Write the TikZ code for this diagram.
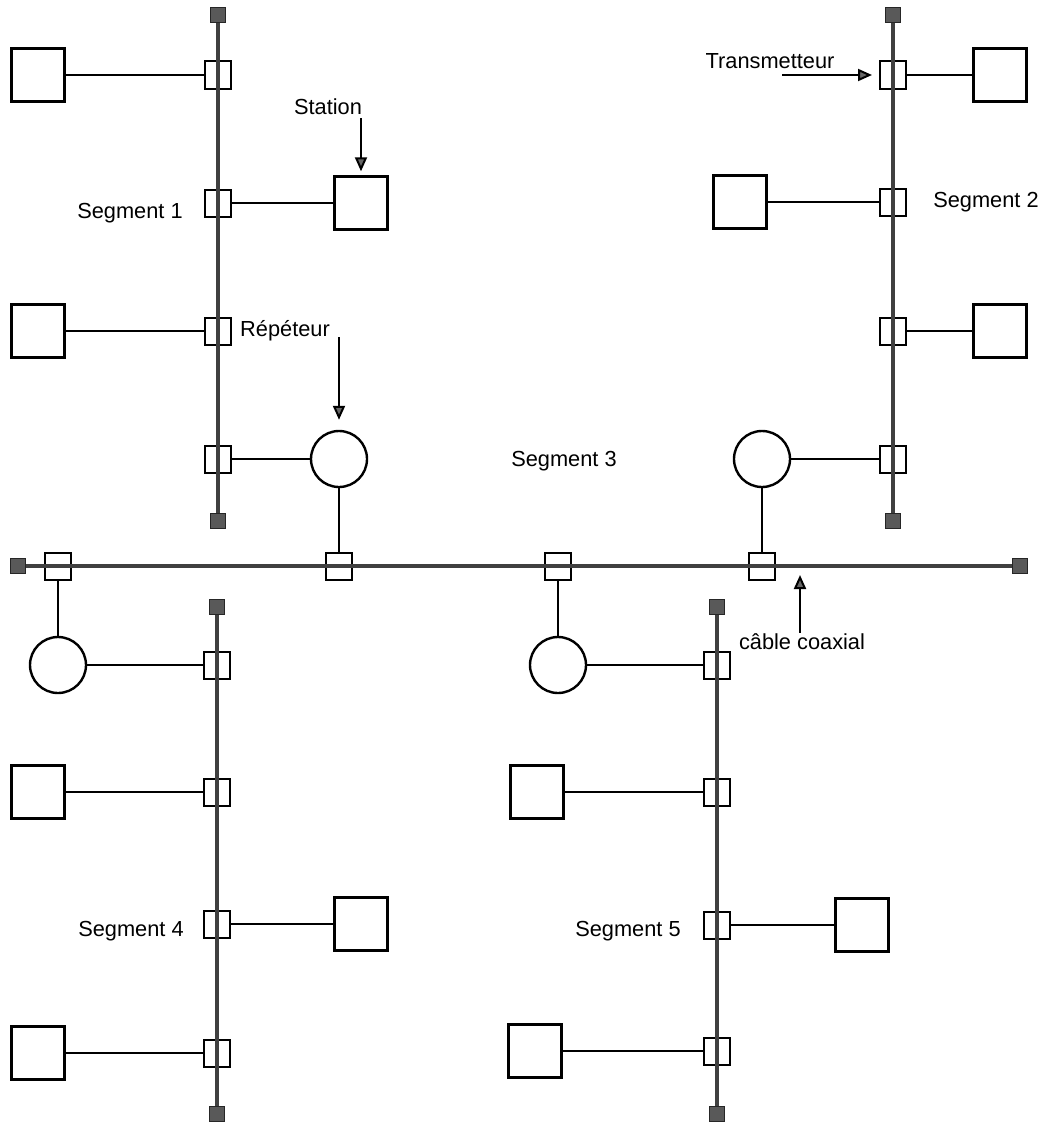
\documentclass[tikz,border=0pt]{standalone}
\usepackage{fontspec}
\setmainfont{Liberation Sans}
\usetikzlibrary{arrows.meta}

\begin{document}
\begin{tikzpicture}[x=0.25mm,y=-0.25mm]

%
% Styles
%
\tikzstyle{station} = [rectangle,draw,line width=0.6mm,minimum size=13.25mm,inner sep=0]
\tikzstyle{repeater} = [circle,draw,line width=0.6mm,minimum size=14mm,inner sep=0]
\tikzstyle{transceiver} = [rectangle,draw,line width=0.5mm,minimum width=6.5mm,minimum height=6.75mm,inner sep=0]
\tikzstyle{terminator} = [rectangle,draw=black!85,fill=black!65,minimum size=3.75mm,inner sep=0]
\tikzstyle{cable} = [draw=black!75,line width=1.1mm]
\tikzstyle{link} = [line width=0.5mm]
\tikzstyle{pointer} = [line width=0.5mm,-{Triangle[length=3.5mm,width=3mm,fill=black!60]}]
\tikzstyle{caption} = [font=\fontsize{15.5}{18}\selectfont,inner sep=0,anchor=base]

\useasboundingbox (0,0) rectangle (1045,1122);

% coaxial cable (segment 3)
\node[terminator] (tca) at (  18, 566) {};
\node[terminator] (tcb) at (1020, 566) {};
\node[transceiver] (xc1) at (  58, 566) {};
\node[transceiver] (xc2) at ( 339, 566) {};
\node[transceiver] (xc3) at ( 558, 566) {};
\node[transceiver] (xc4) at ( 762, 566) {};
\draw[cable] (tca) -- (tcb);

% segment 1
\node[terminator] (t1a) at (218,  15) {};
\node[terminator] (t1b) at (218, 521) {};
\node[transceiver] (x11) at (218,  75) {};
\node[transceiver] (x12) at (218, 203) {};
\node[transceiver] (x13) at (218, 331) {};
\node[transceiver] (x14) at (218, 459) {};
\node[station] (s11) at ( 38,  75) {};
\node[station] (s12) at (361, 203) {};
\node[station] (s13) at ( 38, 331) {};
\node[repeater] (r1) at (339, 459) {};
\draw[cable] (t1a) -- (t1b);
\draw[link] (s11) -- (x11);
\draw[link] (x12) -- (s12);
\draw[link] (s13) -- (x13);
\draw[link] (x14) -- (r1);
\draw[link] (r1) -- (xc2);

% segment 2
\node[terminator] (t2a) at (893,  15) {};
\node[terminator] (t2b) at (893, 521) {};
\node[transceiver] (x21) at (893,  75) {};
\node[transceiver] (x22) at (893, 202) {};
\node[transceiver] (x23) at (893, 331) {};
\node[transceiver] (x24) at (893, 459) {};
\node[station] (s21) at (1000,  75) {};
\node[station] (s22) at ( 740, 202) {};
\node[station] (s23) at (1000, 331) {};
\node[repeater] (r2) at (762, 459) {};
\draw[cable] (t2a) -- (t2b);
\draw[link] (x21) -- (s21);
\draw[link] (s22) -- (x22);
\draw[link] (x23) -- (s23);
\draw[link] (r2) -- (x24);
\draw[link] (r2) -- (xc4);

% segment 4
\node[terminator] (t4a) at (217,  607) {};
\node[terminator] (t4b) at (217, 1114) {};
\node[transceiver] (x41) at (217,  665) {};
\node[transceiver] (x42) at (217,  792) {};
\node[transceiver] (x43) at (217,  924) {};
\node[transceiver] (x44) at (217, 1053) {};
\node[repeater] (r4) at ( 58,  665) {};
\node[station] (s42) at ( 38,  792) {};
\node[station] (s43) at (361,  924) {};
\node[station] (s44) at ( 38, 1053) {};
\draw[cable] (t4a) -- (t4b);
\draw[link] (xc1) -- (r4);
\draw[link] (r4) -- (x41);
\draw[link] (s42) -- (x42);
\draw[link] (x43) -- (s43);
\draw[link] (s44) -- (x44);

% segment 5
\node[terminator] (t5a) at (717,  607) {};
\node[terminator] (t5b) at (717, 1114) {};
\node[transceiver] (x51) at (717,  665) {};
\node[transceiver] (x52) at (717,  792) {};
\node[transceiver] (x53) at (717,  925) {};
\node[transceiver] (x54) at (717, 1051) {};
\node[repeater] (r5) at (558,  665) {};
\node[station] (s52) at (537,  792) {};
\node[station] (s53) at (862,  925) {};
\node[station] (s54) at (535, 1051) {};
\draw[cable] (t5a) -- (t5b);
\draw[link] (xc3) -- (r5);
\draw[link] (r5) -- (x51);
\draw[link] (s52) -- (x52);
\draw[link] (x53) -- (s53);
\draw[link] (s54) -- (x54);

% labels
\node[caption] (seg1) at (130, 218) {Segment 1};
\node[caption] (seg2) at (986, 207) {Segment 2};
\node[caption] (seg3) at (564, 466) {Segment 3};
\node[caption] (seg4) at (131, 936) {Segment 4};
\node[caption] (seg5) at (628, 936) {Segment 5};
\node[caption] (lstation) at (328, 115) {Station};
\node[caption] (ltrans) at (770,  68) {Transmetteur};
\node[caption] (lrep) at (285, 336) {Répéteur};
\node[caption] (lcoax) at (802, 649) {câble coaxial};

% pointers
\coordinate (pstation) at (361, 118);
\coordinate (ptrans) at (782,  75);
\coordinate (prep) at (339, 337);
\coordinate (pcoax) at (800, 566);
\draw[pointer,shorten >=1mm] (pstation) -- (s12);
\draw[pointer,shorten >=1.75mm] (ptrans) -- (x21);
\draw[pointer,shorten >=2.5mm] (prep) -- (r1);
\draw[pointer,shorten >=2.25mm] (pcoax |- lcoax.north) -- (pcoax);

\end{tikzpicture}
\end{document}
